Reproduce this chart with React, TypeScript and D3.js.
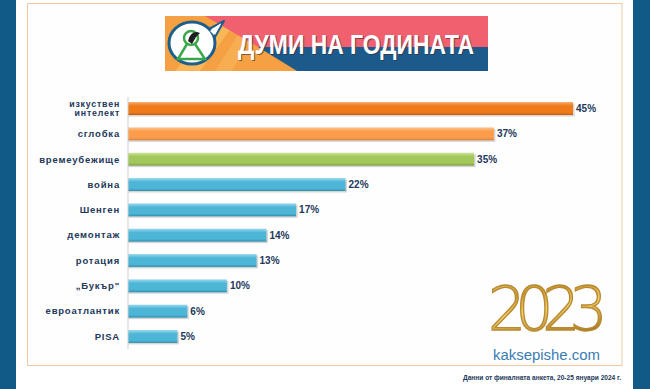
import { useMemo } from 'react';
import * as d3 from 'd3';

const W = 650;
const H = 389;

// poll results, in percent
const words = [
  'изкуствен интелект',
  'сглобка',
  'времеубежище',
  'война',
  'Шенген',
  'демонтаж',
  'ротация',
  '„Букър"',
  'евроатлантик',
  'PISA',
];
const shares = [45, 37, 35, 22, 17, 14, 13, 10, 6, 5];
const barTone = ['dark', 'orange', 'green', 'blue', 'blue', 'blue', 'blue', 'blue', 'blue', 'blue'];

const TITLE = 'ДУМИ НА ГОДИНАТА';
const SITE = 'kaksepishe.com';
const NOTE = 'Данни от финалната анкета, 20-25 януари 2024 г.';
const YEAR = '2023';

const TONES: Record<string, [string, string, string]> = {
  dark: ['#f9a866', '#ef7a1a', '#c45e10'],
  orange: ['#fdc48e', '#fb9d4c', '#d9803a'],
  green: ['#cfe39a', '#a2c75a', '#7f9f40'],
  blue: ['#9bdaee', '#4db5d6', '#2f8fb0'],
};

const LABEL = '#22385a';

export default function App() {
  const x = useMemo(() => d3.scaleLinear().domain([0, 45]).range([128, 573]), []);
  const y = useMemo(
    () => d3.scaleBand<string>().domain(words).range([96, 349]).paddingInner(0.49).paddingOuter(0.24),
    []
  );
  const bw = y.bandwidth();

  return (
    <svg
      width={W}
      height={H}
      style={{ position: 'absolute', left: 0, top: 0, fontFamily: 'Liberation Sans, Arial, sans-serif' }}
    >
      <defs>
        {Object.entries(TONES).map(([k, c]) => (
          <linearGradient key={k} id={`g-${k}`} x1="0" y1="0" x2="0" y2="1">
            <stop offset="0" stopColor={c[0]} />
            <stop offset="0.3" stopColor={c[1]} />
            <stop offset="0.8" stopColor={c[1]} />
            <stop offset="1" stopColor={c[2]} />
          </linearGradient>
        ))}
        <linearGradient id="gold" x1="0" y1="0" x2="0.3" y2="1">
          <stop offset="0" stopColor="#f8de8c" />
          <stop offset="0.35" stopColor="#c8952e" />
          <stop offset="0.6" stopColor="#f3cf6c" />
          <stop offset="1" stopColor="#a87420" />
        </linearGradient>
        <clipPath id="banner">
          <rect x={165} y={16} width={323} height={55} />
        </clipPath>
      </defs>

      <rect width={W} height={H} fill="#ffffff" />
      <rect x={0} y={0} width={16} height={H} fill="#0f5a87" />
      <rect x={633} y={0} width={17} height={H} fill="#0f5a87" />
      <rect x={27.5} y={3.5} width={594.5} height={362} fill="#fefefe" stroke="#f0c9a4" strokeWidth={1} />

      {/* banner */}
      <g clipPath="url(#banner)">
        <rect x={165} y={16} width={323} height={55} fill="#f5a043" />
        <polygon points="175,71 222,16 240,16 200,71" fill="#fbbd5e" opacity={0.8} />
        <polygon points="215,71 250,16 262,16 232,71" fill="#f8b055" opacity={0.8} />
        <polygon points="205,16 488,16 488,47 258,47" fill="#f0606e" />
        <polygon points="258,47 488,47 488,71 297,71" fill="#1b5a8a" />
        <path d="M209,29 L224,21 L215,37 Z" fill="#ffffff" stroke="#1d5e8a" strokeWidth={2} strokeLinejoin="round" />
        <ellipse cx={192} cy={43} rx={23} ry={21} fill="#ffffff" stroke="#1d5e8a" strokeWidth={3} />
        <path d="M210,31 L221,23 L214,35 Z" fill="#ffffff" />
        <circle cx={191} cy={38} r={7} fill="none" stroke="#3aa84a" strokeWidth={2.5} />
        <path d="M187,44 L178,59 L205,59 L195,44" fill="none" stroke="#3aa84a" strokeWidth={2.5} />
        <path d="M188,41 Q190,32 197,32 L200,33 L196,37 L192,44 Z" fill="#1e1e1e" />
        <text
          x={239}
          y={55}
          fontSize={28}
          fontWeight="bold"
          fill="#3a2a2a"
          textLength={236}
          lengthAdjust="spacingAndGlyphs"
          opacity={0.6}
        >
          {TITLE}
        </text>
        <text x={238} y={54} fontSize={28} fontWeight="bold" fill="#ffffff" textLength={236} lengthAdjust="spacingAndGlyphs">
          {TITLE}
        </text>
      </g>

      {/* bars */}
      {words.map((w, i) => {
        const y0 = y(w) ?? 0;
        const x1 = x(shares[i]);
        return (
          <g key={w}>
            <rect x={x(0)} y={y0 + 1.5} width={x1 - x(0) + 1.5} height={bw} fill="#8a8a8a" opacity={0.35} />
            <rect x={x(0)} y={y0} width={x1 - x(0)} height={bw} fill={`url(#g-${barTone[i]})`} />
            <text x={x1 + 3} y={y0 + bw / 2} dy="0.35em" fontSize={10} fontWeight="bold" fill={LABEL}>
              {shares[i]}%
            </text>
          </g>
        );
      })}
      <line x1={128} x2={128} y1={97} y2={349} stroke="#d0d0d0" strokeWidth={1} />

      {/* category labels */}
      {words.map((w) => {
        const c = (y(w) ?? 0) + bw / 2;
        const parts = w === 'изкуствен интелект' ? w.split(' ') : [w];
        const fs = parts.length > 1 ? 8.8 : 9.5;
        return (
          <text
            key={w}
            x={120}
            textAnchor="end"
            fontSize={fs}
            fontWeight="bold"
            letterSpacing={0.8}
            fill={LABEL}
          >
            {parts.map((p, j) => (
              <tspan key={p} x={120} y={c + (j - (parts.length - 1) / 2) * 8.8} dy="0.35em">
                {p}
              </tspan>
            ))}
          </text>
        );
      })}

      {/* 2023 mark */}
      <text
        x={488}
        y={330}
        fontFamily="DejaVu Sans"
        fontWeight={200}
        fontSize={60}
        letterSpacing={-11}
        fill="url(#gold)"
        stroke="#b88a30"
        strokeWidth={1.3}
      >
        {YEAR}
      </text>
      <text x={493} y={360} fontSize={15.5} fill="#3a7db3" textLength={107} lengthAdjust="spacingAndGlyphs">
        {SITE}
      </text>

      <text x={463} y={380} fontSize={7.2} fontWeight="bold" fill={LABEL} textLength={158} lengthAdjust="spacingAndGlyphs">
        {NOTE}
      </text>
    </svg>
  );
}
